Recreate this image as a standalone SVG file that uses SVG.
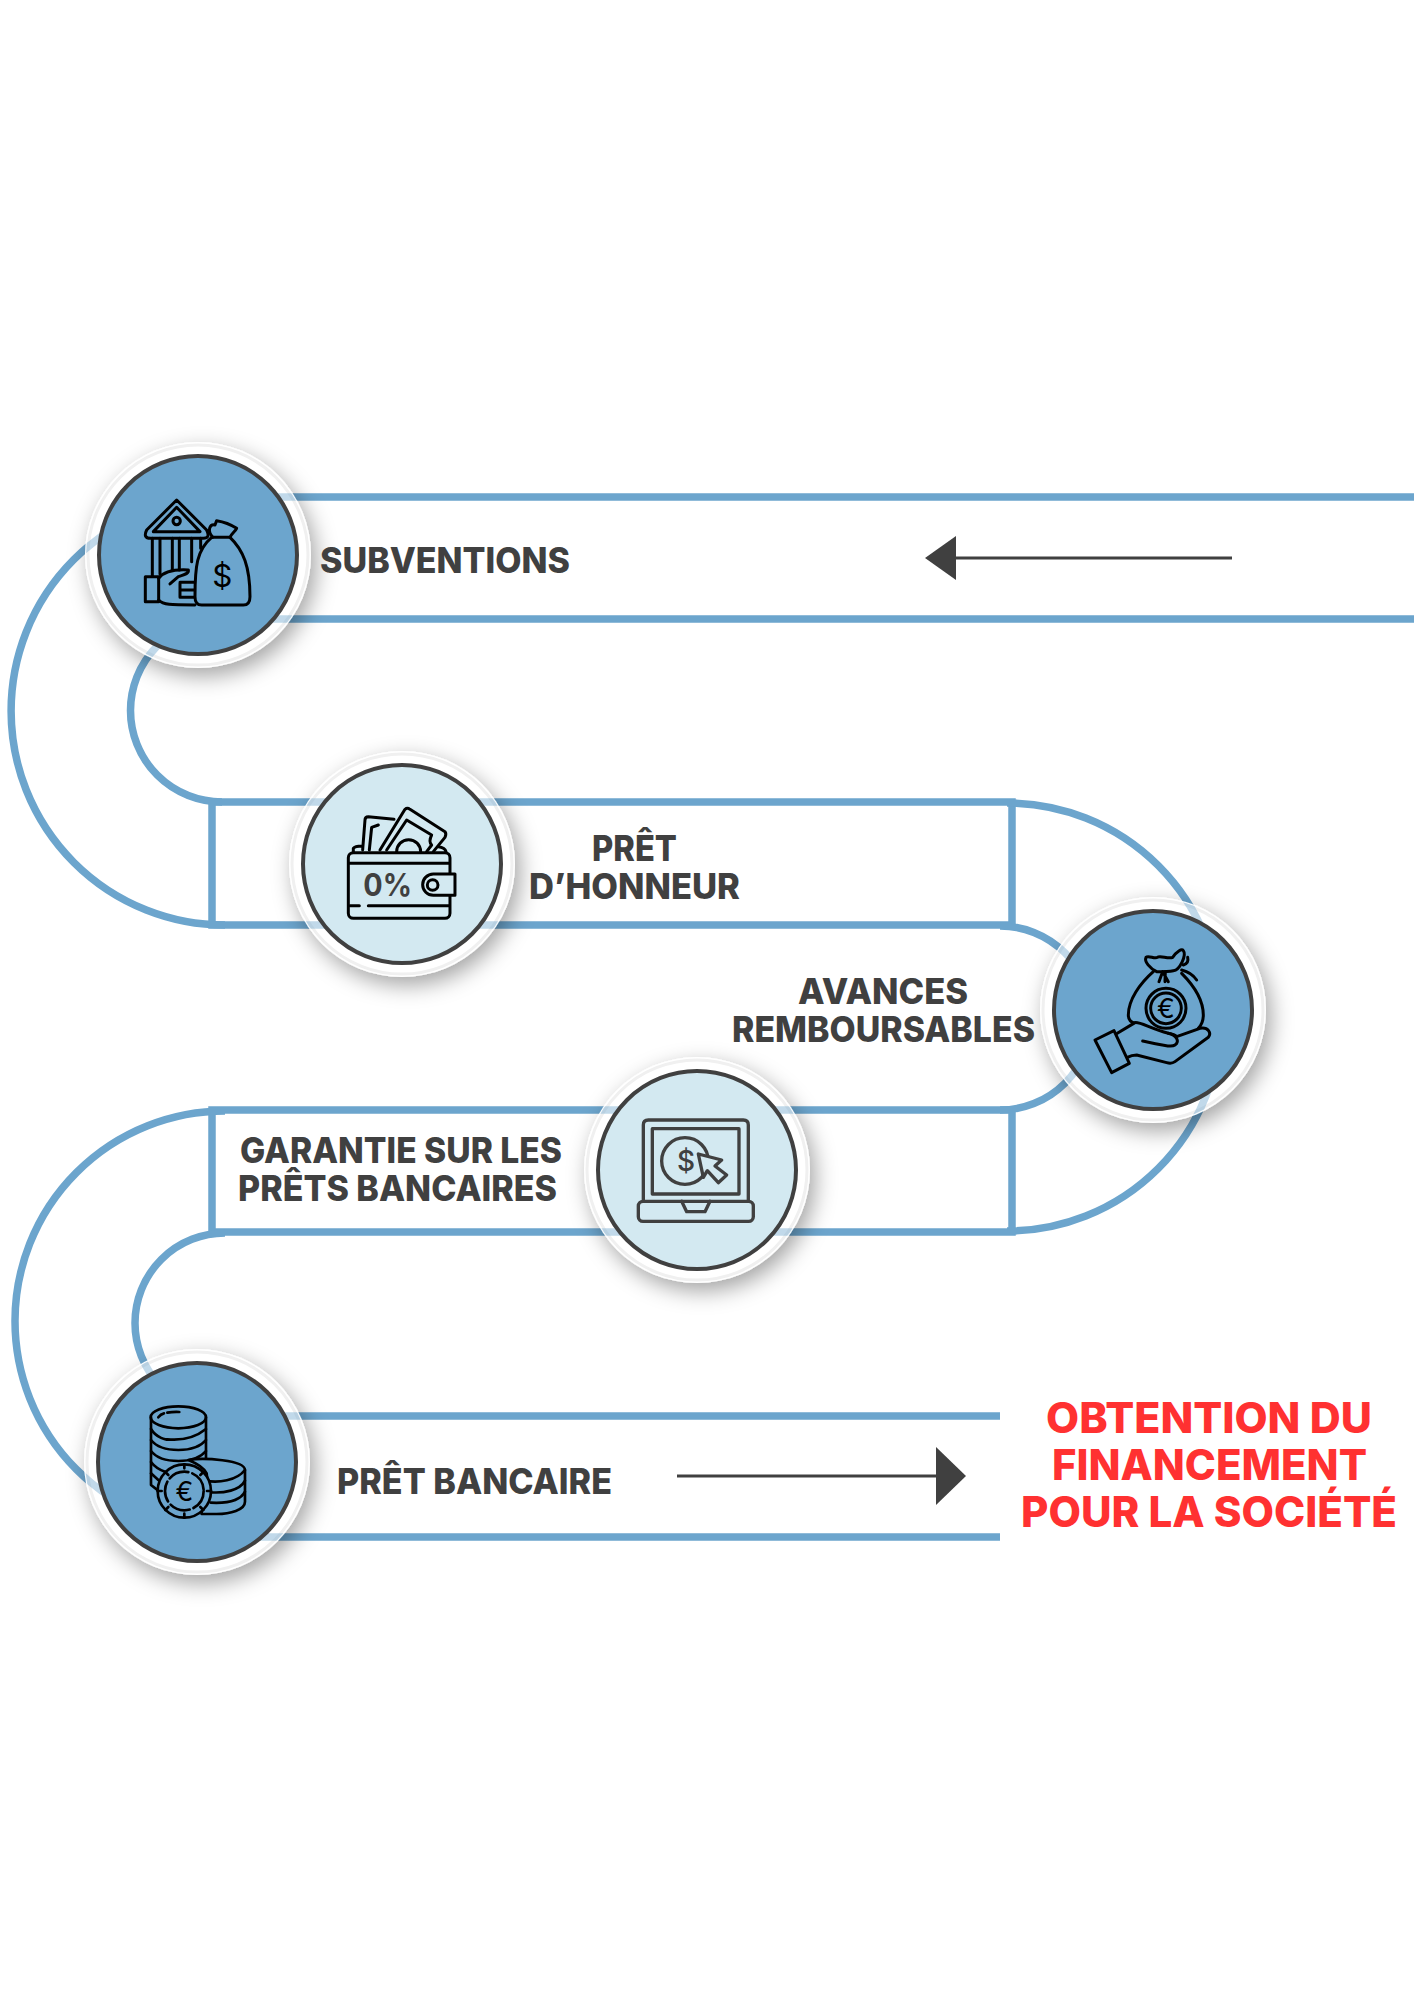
<svg xmlns="http://www.w3.org/2000/svg" xmlns:xlink="http://www.w3.org/1999/xlink" width="1414" height="2000" viewBox="0 0 1414 2000">
<defs>
<filter id="sh" x="-40%" y="-40%" width="180%" height="180%"><feDropShadow dx="5" dy="8" stdDeviation="11" flood-color="#000" flood-opacity=".36"/></filter>
<clipPath id="c1"><circle cx="198" cy="555" r="112"/></clipPath>
<clipPath id="c2"><circle cx="402" cy="864" r="112"/></clipPath>
<clipPath id="c3"><circle cx="1153" cy="1010" r="112"/></clipPath>
<clipPath id="c4"><circle cx="697" cy="1170" r="112"/></clipPath>
<clipPath id="c5"><circle cx="197" cy="1462" r="112"/></clipPath>
</defs>
<style>
.c{fill:none;stroke:#6ca5cd;stroke-width:7.500}
.ring{fill:#fff;filter:url(#sh)}
.edge{fill:none;stroke:#f0f0f0;stroke-width:3}
.ghost{opacity:.42}
.disc{stroke:#404040;stroke-width:4}
.blue{fill:#6ca5cd}.light{fill:#d3e9f1}
.i{fill:none;stroke:#000;stroke-width:9;stroke-linecap:round;stroke-linejoin:round}
.t{font-family:Inter,"Liberation Sans",sans-serif;font-weight:800;font-size:35px;fill:#404040}
.r{font-family:Inter,"Liberation Sans",sans-serif;font-weight:800;font-size:42px;fill:#ff3131}
.g{font-family:Inter,"Liberation Sans",sans-serif;text-anchor:middle}
</style>
<rect width="1414" height="2000" fill="#fff"/>
<g id="connectors">
<path class="c" d="M225 497H1414M225 619H1414"/>
<path class="c" d="M225 497A214 214 0 0 0 225 925M222 619A91.500 91.500 0 0 0 222 802"/>
<rect class="c" x="212" y="802" width="800" height="123"/>
<path class="c" d="M1007 803A214 214 0 0 1 1007 1231M1000 926A92 92 0 0 1 1000 1110"/>
<rect class="c" x="212" y="1110" width="800" height="122"/>
<path class="c" d="M225 1111A210 210 0 0 0 225 1531M225 1233A90 90 0 0 0 225 1413"/>
<path class="c" d="M225 1416H1000M225 1537H1000"/>
<path d="M1232 558H951" stroke="#404040" stroke-width="3" fill="none"/>
<path d="M925 558L956 536V580Z" fill="#404040"/>
<path d="M677 1476H941" stroke="#404040" stroke-width="3" fill="none"/>
<path d="M966 1476L936 1447V1505Z" fill="#404040"/>
</g>
<g id="node-subventions">
<circle class="ring" cx="198" cy="555" r="113"/><circle class="edge" cx="198" cy="555" r="110"/>
<g clip-path="url(#c1)"><use href="#connectors" class="ghost"/></g>
<circle class="disc blue" cx="198" cy="555" r="99"/>
<g transform="translate(80,450) scale(.3333)">
<path class="i" d="M290 150L380 240Q392 265 370 265H212Q188 265 200 240Z"/>
<path class="i" d="M290 172L360 245H220Z"/><circle class="i" cx="290" cy="213" r="11"/>
<path class="i" d="M217 265V378M240 265V372M277 265V360M298 265V360M335 265V335M362 265V295"/>
<rect class="i" x="196" y="380" width="40" height="75"/>
<path class="i" d="M236 385C255 360 290 358 325 360C328 372 310 375 295 380L270 402M236 450C250 465 270 465 345 465M300 397H345M300 420H345M300 442H345M300 400V442"/>
<path class="i" style="fill:#6ca5cd" d="M395 262C350 300 345 350 345 440Q345 465 365 465H490Q510 465 510 440C510 350 490 300 450 262Z"/>
<path class="i" d="M398 262C380 240 390 222 405 225L410 212C430 215 455 225 470 235C465 245 455 250 450 262"/>
<text x="427" y="412" class="g" font-size="94" font-weight="400" fill="#000">$</text>
</g>
<text class="t" x="320" y="572.500" textLength="250" lengthAdjust="spacingAndGlyphs">SUBVENTIONS</text>
</g>
<g id="node-pret-honneur">
<circle class="ring" cx="402" cy="864" r="113"/><circle class="edge" cx="402" cy="864" r="110"/>
<g clip-path="url(#c2)"><use href="#connectors" class="ghost"/></g>
<circle class="disc light" cx="402" cy="864" r="99"/>
<g transform="translate(290,750) scale(.3333)">
<path class="i" d="M218 300L225 210Q225 200 235 200L312 208M238 300L245 232L265 225M190 305V295Q195 288 215 288M445 290Q465 292 468 305"/>
<path class="i" d="M270 300L345 178Q352 172 360 178L465 245Q470 252 465 262L430 305M290 300L350 210L425 255Q415 275 425 285L410 305M320 305A35 35 0 0 1 392 305"/>
<rect class="i" x="175" y="308" width="305" height="197" rx="15"/>
<path class="i" d="M178 340H478M180 467H208M235 467H478"/>
<path class="i" style="fill:#d3e9f1" d="M495 372H430A32 32 0 0 0 430 436H495Z"/>
<circle class="i" cx="428" cy="405" r="16"/>
<text x="220" y="438" font-family="Inter,'Liberation Sans',sans-serif" font-weight="700" font-size="92" fill="#404040" textLength="146" lengthAdjust="spacingAndGlyphs">0%</text>
</g>
<text class="t" x="592" y="860.500" textLength="85" lengthAdjust="spacingAndGlyphs">PRÊT</text>
<text class="t" x="529" y="898.500" textLength="211" lengthAdjust="spacingAndGlyphs">D’HONNEUR</text>
</g>
<g id="node-avances">
<circle class="ring" cx="1153" cy="1010" r="113"/><circle class="edge" cx="1153" cy="1010" r="110"/>
<g clip-path="url(#c3)"><use href="#connectors" class="ghost"/></g>
<circle class="disc blue" cx="1153" cy="1010" r="99"/>
<g transform="translate(1040,900) scale(.3333)">
<path class="i" d="M340 215C300 250 265 300 265 345Q265 365 285 370M425 220C465 260 490 300 490 345Q490 370 475 385"/>
<path class="i" d="M350 215C330 205 312 185 318 172C325 165 345 178 352 172C360 165 385 178 398 172C410 155 425 145 430 152C440 165 420 210 400 212C385 215 365 215 350 215Z"/>
<path class="i" d="M357 245L368 215L385 245M375 245L376 215M425 210C445 215 460 225 470 240M430 195C445 190 445 180 443 172"/>
<circle class="i" cx="378" cy="325" r="60"/><circle class="i" cx="378" cy="325" r="46"/>
<text x="378" y="354" class="g" font-size="80" font-weight="400" fill="#000">€</text>
<path class="i" style="fill:#6ca5cd" d="M232 400L285 368C300 365 330 385 385 400C400 403 408 408 410 410L480 385C505 380 515 400 505 412L405 485Q395 492 380 488L290 465Q275 465 262 472"/>
<path class="i" d="M308 423C380 438 395 442 405 435C420 425 410 405 385 400"/>
<path class="i" style="fill:#6ca5cd" d="M165 420L222 392L268 490L215 518Z"/>
</g>
<text class="t" x="798" y="1004" textLength="170" lengthAdjust="spacingAndGlyphs">AVANCES</text>
<text class="t" x="732" y="1042" textLength="303" lengthAdjust="spacingAndGlyphs">REMBOURSABLES</text>
</g>
<g id="node-garantie">
<circle class="ring" cx="697" cy="1170" r="113"/><circle class="edge" cx="697" cy="1170" r="110"/>
<g clip-path="url(#c4)"><use href="#connectors" class="ghost"/></g>
<circle class="disc light" cx="697" cy="1170" r="99"/>
<g transform="translate(590,1060) scale(.3333)">
<g class="i" style="stroke:#404040;stroke-width:10">
<path d="M160 420V195Q160 180 175 180H460Q475 180 475 195V420"/>
<rect x="187" y="206" width="260" height="196"/>
<rect x="145" y="424" width="345" height="60" rx="14"/>
<path d="M275 424L290 455H345L360 424"/>
<circle cx="285" cy="303" r="70"/>
<path style="fill:#d3e9f1" d="M325 282L395 300L375 318L410 345L385 368L352 332L340 352Z"/>
</g>
<text x="288" y="333" class="g" font-size="84" font-weight="500" fill="#404040">$</text>
</g>
<text class="t" x="240" y="1163" textLength="322" lengthAdjust="spacingAndGlyphs">GARANTIE SUR LES</text>
<text class="t" x="238" y="1201" textLength="319" lengthAdjust="spacingAndGlyphs">PRÊTS BANCAIRES</text>
</g>
<g id="node-pret-bancaire">
<circle class="ring" cx="197" cy="1462" r="113"/><circle class="edge" cx="197" cy="1462" r="110"/>
<g clip-path="url(#c5)"><use href="#connectors" class="ghost"/></g>
<circle class="disc blue" cx="197" cy="1462" r="99"/>
<g transform="translate(90,1360) scale(.3333)">
<g class="i" style="stroke-width:8">
<ellipse cx="265" cy="172" rx="83" ry="33"/>
<path d="M205 172Q212 162 222 160M232 158Q250 155 268 156"/>
<path d="M183 172V375L205 392M348 172V300"/>
<path d="M232 238Q300 245 348 207M183 207C200 235 230 240 232 238M183 240C215 280 315 280 348 240M183 273C215 313 315 313 348 273M183 306C195 322 210 330 225 335M183 340L205 360"/>
<path style="fill:#6ca5cd" d="M295 300C340 292 465 300 465 330V425C465 450 420 462 380 462H335V420Q360 410 350 340C340 320 320 310 295 300Z"/>
<path d="M345 362C385 370 440 362 465 330M362 397C400 400 450 392 465 362M362 428C400 430 450 425 465 395"/>
<circle cx="283" cy="393" r="80" style="fill:#6ca5cd"/>
<circle cx="283" cy="393" r="58" stroke-dasharray="62 12"/>
<path d="M283 313V325M283 461V473M203 393H215M351 393H363M226 336L235 345M340 336L331 345M226 450L235 441M340 450L331 441"/>
</g>
<text x="283" y="422" class="g" font-size="80" font-weight="400" fill="#000">€</text>
</g>
<text class="t" x="337" y="1494" textLength="275" lengthAdjust="spacingAndGlyphs">PRÊT BANCAIRE</text>
</g>
<g id="result">
<text class="r" x="1046" y="1432.500" textLength="326" lengthAdjust="spacingAndGlyphs">OBTENTION DU</text>
<text class="r" x="1052" y="1479.500" textLength="315" lengthAdjust="spacingAndGlyphs">FINANCEMENT</text>
<text class="r" x="1021" y="1526.500" textLength="376" lengthAdjust="spacingAndGlyphs">POUR LA SOCIÉTÉ</text>
</g>
</svg>
